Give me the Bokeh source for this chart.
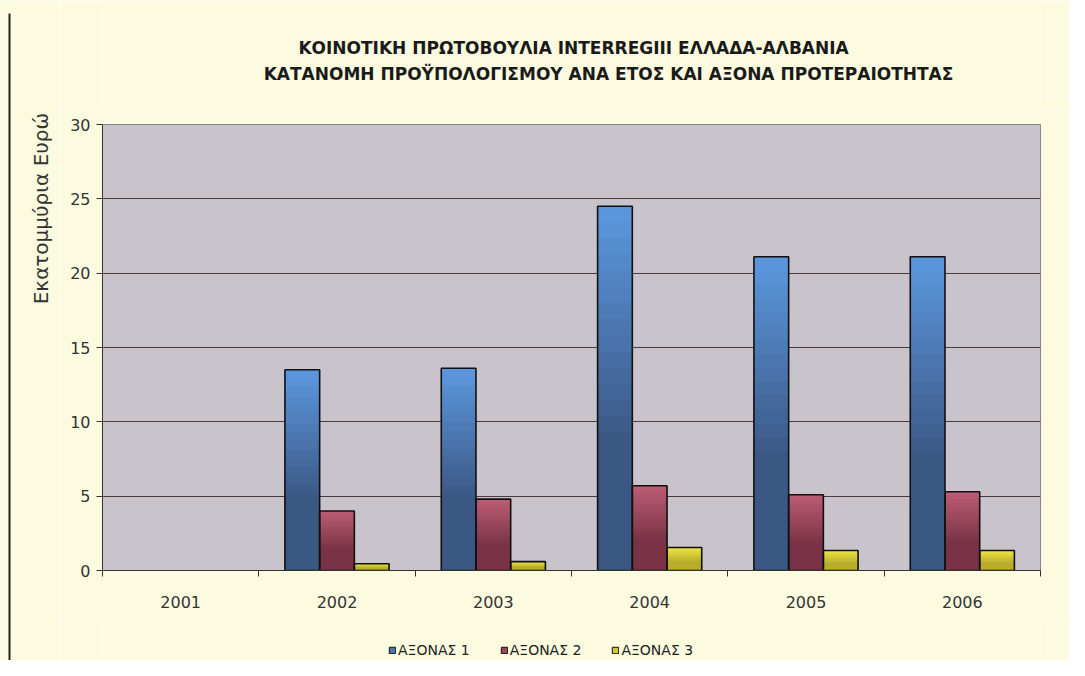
import math
from bokeh.plotting import figure
from bokeh.models import (ColumnDataSource, FixedTicker, Legend, LegendItem, Range1d)
from bokeh.layouts import column, row
from bokeh.transform import dodge
from bokeh.core.properties import value
from bokeh.embed import file_html
from bokeh.resources import INLINE

years = ["2001", "2002", "2003", "2004", "2005", "2006"]
axon1 = [0, 13.5, 13.6, 24.5, 21.1, 21.1]
axon2 = [0, 4.0, 4.8, 5.7, 5.1, 5.3]
axon3 = [0, 0.45, 0.6, 1.55, 1.35, 1.35]
series_names = ["ΑΞΟΝΑΣ 1", "ΑΞΟΝΑΣ 2", "ΑΞΟΝΑΣ 3"]
title_lines = ["ΚΟΙΝΟΤΙΚΗ ΠΡΩΤΟΒΟΥΛΙΑ  INTERREGIII ΕΛΛΑΔΑ-ΑΛΒΑΝΙΑ",
               "ΚΑΤΑΝΟΜΗ ΠΡΟΫΠΟΛΟΓΙΣΜΟΥ ΑΝΑ ΕΤΟΣ ΚΑΙ ΑΞΟΝΑ ΠΡΟΤΕΡΑΙΟΤΗΤΑΣ"]
y_label = "Εκατομμύρια Ευρώ"
y_ticks = [0, 5, 10, 15, 20, 25, 30]

CREAM = "#fcfbdf"
PLOT_BG = "#c9c3cc"
FONT = "DejaVu Sans"
TOTAL_W, TOTAL_H = 1069, 660
SIDE_W = 60
MAIN_W = TOTAL_W - SIDE_W
FRAME_L, FRAME_R = 102, 1040          # page x of plot frame
FRAME_T, FRAME_B = 124, 570           # page y of plot frame
BL = FRAME_L - SIDE_W
BR = TOTAL_W - FRAME_R
TITLE_H = 110
MAIN_H = 620 - TITLE_H
LEG_H = TOTAL_H - TITLE_H - MAIN_H


def strip(fig):
    fig.grid.grid_line_color = None
    fig.outline_line_color = None
    fig.background_fill_color = CREAM
    fig.border_fill_color = CREAM


# --- left strip: border line and y-axis title ---------------------------
side = figure(width=SIDE_W, height=TOTAL_H, output_backend="svg", toolbar_location=None,
              x_range=Range1d(0, SIDE_W), y_range=Range1d(0, TOTAL_H),
              x_axis_location=None, y_axis_location=None, min_border=0)
strip(side)
side.segment(x0=[9], y0=[TOTAL_H - 13], x1=[9], y1=[0], line_color="#222222", line_width=2)
side.text(x=[40], y=[TOTAL_H - 208], text=[y_label], angle=math.pi / 2,
          text_align="center", text_baseline="middle", text_font=value(FONT),
          text_font_size="20px", text_color="#333333")

# --- title strip ---------------------------------------------------------
tf = figure(width=MAIN_W, height=TITLE_H, output_backend="svg", toolbar_location=None,
            x_range=Range1d(FRAME_L, FRAME_R), y_range=Range1d(TITLE_H, 0),
            x_axis_location=None, y_axis_location=None,
            min_border_left=BL, min_border_right=BR, min_border_top=0, min_border_bottom=0)
strip(tf)
tf.text(x=[576, 608], y=[47, 73], text=title_lines, text_align="center",
        text_baseline="middle", text_font=value(FONT), text_font_size="17px",
        text_font_style="bold", text_color="#1a1a1a")

# --- main chart ----------------------------------------------------------
xs = [i + 0.5 for i in range(len(years))]
src = ColumnDataSource(dict(x=xs, year=years, a1=axon1, a2=axon2, a3=axon3))

p = figure(width=MAIN_W, height=MAIN_H, frame_width=FRAME_R - FRAME_L,
           frame_height=FRAME_B - FRAME_T, output_backend="svg", toolbar_location=None,
           x_range=Range1d(0, len(years)), y_range=Range1d(0, 30),
           min_border_left=BL, min_border_right=BR,
           min_border_top=FRAME_T - TITLE_H,
           min_border_bottom=MAIN_H - (FRAME_T - TITLE_H) - (FRAME_B - FRAME_T))
p.title = None
p.background_fill_color = PLOT_BG
p.border_fill_color = CREAM
p.outline_line_color = "#8a8490"
p.outline_line_width = 1


def lerp(c1, c2, t):
    a = [int(c1[i:i + 2], 16) for i in (1, 3, 5)]
    b = [int(c2[i:i + 2], 16) for i in (1, 3, 5)]
    return "#%02x%02x%02x" % tuple(round(a[k] + (b[k] - a[k]) * t) for k in range(3))


styles = [
    ("a1", -0.222, "#5b96dc", "#3b5884"),
    ("a2", 0.0, "#bb5c73", "#7a3346"),
    ("a3", 0.222, "#ede545", "#b8ad2a"),
]
W = 0.222
N = 14
for col, off, light, dark in styles:
    p.vbar(x=dodge("x", off, range=p.x_range), top=col, width=W, source=src,
           fill_color=light, line_color=None)
    vals = src.data[col]
    for k in range(1, N + 1):
        c = lerp(light, dark, k / N)
        tops = [v * (1 - 0.62 * (k / N)) for v in vals]
        s2 = ColumnDataSource(dict(x=xs, top=tops))
        p.vbar(x=dodge("x", off, range=p.x_range), top="top", width=W, source=s2,
               fill_color=c, line_color=None)

legend_colors = []
for col, off, light, dark in styles:
    vals = src.data[col]
    so = ColumnDataSource(dict(x=xs, top=vals, la=[1.0 if v > 0 else 0.0 for v in vals]))
    p.vbar(x=dodge("x", off, range=p.x_range), top="top", width=W, source=so,
           fill_alpha=0.0, line_color="#111111", line_alpha="la", line_width=1.6)
    legend_colors.append(lerp(light, dark, 0.5))

p.yaxis.ticker = FixedTicker(ticks=y_ticks)
p.yaxis.major_label_text_font = FONT
p.yaxis.major_label_text_font_size = "16px"
p.yaxis.major_label_text_color = "#333333"
p.yaxis.axis_line_color = "#3a3030"
p.yaxis.major_tick_line_color = "#3a3030"
p.yaxis.major_tick_out = 6
p.yaxis.major_tick_in = 0
p.yaxis.minor_tick_line_color = None
p.yaxis.major_label_standoff = 6

p.xaxis.ticker = FixedTicker(ticks=xs, minor_ticks=list(range(len(years) + 1)))
p.xaxis.major_label_overrides = {x: y for x, y in zip(xs, years)}
p.xaxis.major_label_text_font = FONT
p.xaxis.major_label_text_font_size = "16px"
p.xaxis.major_label_text_color = "#333333"
p.xaxis.major_tick_line_color = None
p.xaxis.minor_tick_out = 6
p.xaxis.minor_tick_in = 0
p.xaxis.minor_tick_line_color = "#3a3030"
p.xaxis.axis_line_color = "#3a3030"
p.xaxis.major_label_standoff = 19

p.xgrid.grid_line_color = None
p.ygrid.ticker = FixedTicker(ticks=y_ticks)
p.ygrid.grid_line_color = "#4a3c3c"
p.ygrid.grid_line_width = 1.2

# --- legend strip --------------------------------------------------------
lf = figure(width=MAIN_W, height=LEG_H, output_backend="svg", toolbar_location=None,
            x_range=Range1d(FRAME_L, FRAME_R), y_range=Range1d(0, 1),
            x_axis_location=None, y_axis_location=None,
            min_border_left=BL, min_border_right=BR, min_border_top=0, min_border_bottom=0)
strip(lf)
items = []
for name, c in zip(series_names, legend_colors):
    # legend proxy kept outside the visible area
    r = lf.vbar(x=[FRAME_R + 500], bottom=[-3], top=[-2], width=0.1,
                fill_color=c, line_color="#111111", line_width=1)
    items.append(LegendItem(label=name, renderers=[r]))
leg = Legend(items=items, orientation="horizontal", location=(388 - FRAME_L - 1, 1),
             label_text_font=FONT, label_text_font_size="14px", label_text_color="#222222",
             glyph_width=8, glyph_height=8, spacing=30, label_standoff=2,
             background_fill_alpha=0, border_line_alpha=0, margin=0, padding=1)
lf.add_layout(leg)

layout = row(side, column(tf, p, lf, spacing=0), spacing=0)
open("out.html", "w").write(file_html(layout, INLINE))
